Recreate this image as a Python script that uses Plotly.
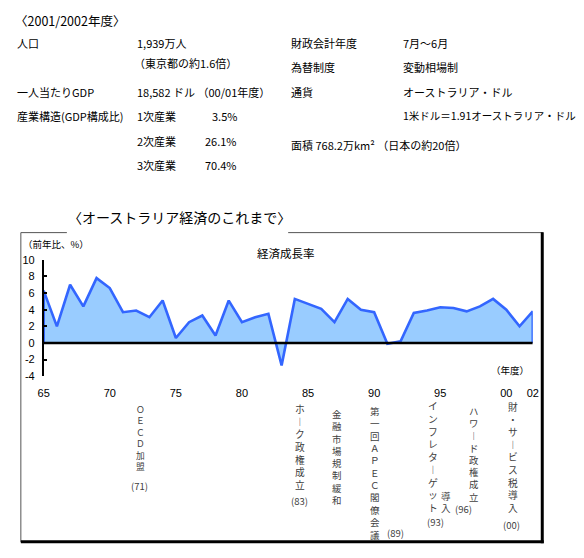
import plotly.graph_objects as go

W, H = 584, 558
OFF = 8                      # page body margin added by the browser
FW, FH = W - OFF, H - OFF    # figure size so that it fits the window

# ---- data ----
years = list(range(1965, 2003))
growth = [6.3, 2.0, 7.0, 4.4, 7.8, 6.6, 3.7, 3.9, 3.1, 5.1,
          0.6, 2.5, 3.3, 0.9, 5.1, 2.5, 3.1, 3.5, -2.7, 5.3,
          4.7, 4.1, 2.5, 5.3, 4.0, 3.7, -0.1, 0.2, 3.6, 3.9,
          4.3, 4.2, 3.8, 4.4, 5.3, 4.0, 2.0, 3.8]
x_tickvals = [1965, 1970, 1975, 1980, 1985, 1990, 1995, 2000, 2002]
x_ticktext = ["65", "70", "75", "80", "85", "90", "95", "00", "02"]
y_tickvals = [-4, -2, 0, 2, 4, 6, 8, 10]
y_ticktext = ["-4", "-2", "0", "2", "4", "6", "8", "10"]

info_left = [
    ("人口", "1,939万人"),
    ("", "（東京都の約1.6倍）"),
    ("一人当たりGDP", "18,582 ドル （00/01年度）"),
    ("産業構造(GDP構成比)", "1次産業"),
    ("", "2次産業"),
    ("", "3次産業"),
]
industry_share = ["3.5%", "26.1%", "70.4%"]
info_right = [
    ("財政会計年度", "7月～6月"),
    ("為替制度", "変動相場制"),
    ("通貨", "オーストラリア・ドル"),
    ("", "1米ドル＝1.91オーストラリア・ドル"),
]
area_text = "面積 768.2万km² （日本の約20倍）"

event_labels = ["ＯＥＣＤ加盟", "ホーク政権成立", "金融市場規制緩和",
                "第一回ＡＰＥＣ閣僚会議", "インフレターゲット", "ハワード政権成立",
                "財・サービス税導入"]
event_years = ["(71)", "(83)", "", "(89)", "(93)", "(96)", "(00)"]

FONT = "Noto Sans CJK JP"


def px(x):
    return (x - OFF) / FW


def py(y):
    return 1 - (y - OFF) / FH


fig = go.Figure()

# filled area
fig.add_trace(go.Scatter(
    x=years, y=growth, mode="lines", fill="tozeroy",
    fillcolor="#99CCFF", line=dict(width=0, color="#99CCFF"),
    hoverinfo="skip", showlegend=False))
# outline of the area (closed down to the baseline at both ends)
fig.add_trace(go.Scatter(
    x=[years[0]] + years + [years[-1]], y=[0] + growth + [0], mode="lines",
    line=dict(color="#3366FF", width=2.6), showlegend=False))

ann = []


def txt(x, y, text, size=11, xanchor="left", yanchor="middle", color="#000000",
        family=FONT):
    ann.append(dict(x=px(x), y=py(y), xref="paper", yref="paper", text=text,
                    showarrow=False, xanchor=xanchor, yanchor=yanchor,
                    align="center" if xanchor == "center" else xanchor,
                    borderpad=0,
                    font=dict(size=size, color=color, family=family)))


# header block
txt(8, 15, "〈2001/2002年度〉", size=12.5)
left_rows_y = [38, 58, 88, 112, 138, 162]
for (lab, val), yy in zip(info_left, left_rows_y):
    if lab:
        txt(10, yy, lab, size=11)
    txt(130 if val.startswith("（") else 133, yy, val, size=11)
for share, yy in zip(industry_share, left_rows_y[3:]):
    txt(237, yy, share, size=11, xanchor="right")
right_rows_y = [38, 62, 88, 112]
for (lab, val), yy in zip(info_right, right_rows_y):
    if lab:
        txt(290, yy, lab, size=11)
    txt(404, yy, val, size=10.5 if len(val) > 12 else 11)
txt(290, 142, area_text, size=11)

# chart box title
txt(62, 216, "〈オーストラリア経済のこれまで〉", size=14)
txt(16, 243, "（前年比、%）", size=9.5)
txt(286, 252, "経済成長率", size=11.5, xanchor="center")
txt(515, 372, "（年度）", size=9.5, xanchor="center")

# vertical event annotations, one glyph per line: (x, first centre y, last centre y)
ev_pos = [
    (137, 413, 470),
    (300, 413, 489),
    (338, 418, 504),
    (377, 415.5, 539),
    (436, 410, 512),
    (478, 415.5, 501),
    (518, 411, 512),
]
yr_pos = [(136, 491), (300, 506), None, (398, 539), (438, 527), (467, 514), (516, 530)]
GRAY = "#404040"
for label, (x0, y0, y1), yr, yp in zip(event_labels, ev_pos, event_years, yr_pos):
    chars = ["︱" if c == "ー" else c for c in label]
    pitch = (y1 - y0) / (len(chars) - 1)
    txt(x0, (y0 + y1) / 2, "<br>".join(chars), size=pitch / 1.3,
        xanchor="center", color=GRAY)
    if yr:
        txt(yp[0], yp[1], yr, size=9.5, xanchor="center", color=GRAY)
# 導入 written beside the inflation-target column
txt(449, 507, "導<br>入", size=9.5, xanchor="center", color=GRAY)

shapes = [
    # zero line
    dict(type="line", xref="x", yref="y", x0=years[0], x1=years[-1], y0=0, y1=0,
         line=dict(color="black", width=2.5), layer="above"),
    # frame
    dict(type="line", xref="paper", yref="paper", x0=px(15), x1=px(15), y0=py(231.5), y1=py(548),
         line=dict(color="#555555", width=1)),
    dict(type="line", xref="paper", yref="paper", x0=px(15), x1=px(62), y0=py(231.5), y1=py(231.5),
         line=dict(color="#555555", width=1)),
    dict(type="line", xref="paper", yref="paper", x0=px(288), x1=px(548), y0=py(231.5), y1=py(231.5),
         line=dict(color="#555555", width=1)),
    dict(type="line", xref="paper", yref="paper", x0=px(547.5), x1=px(547.5), y0=py(231), y1=py(549),
         line=dict(color="black", width=3)),
    dict(type="line", xref="paper", yref="paper", x0=px(15), x1=px(549), y0=py(547.5), y1=py(547.5),
         line=dict(color="black", width=3)),
]

fig.update_layout(
    width=FW, height=FH, margin=dict(l=0, r=0, t=0, b=0),
    paper_bgcolor="white", plot_bgcolor="rgba(0,0,0,0)",
    font=dict(family=FONT, size=11, color="black"),
    showlegend=False,
    annotations=ann, shapes=shapes,
    xaxis=dict(domain=[px(38.3), px(537.8)], range=[years[0], years[-1]],
               tickmode="array", tickvals=x_tickvals, ticktext=x_ticktext,
               showgrid=False, zeroline=False, showline=False, ticks="",
               ticklabelstandoff=9, tickfont=dict(family="Liberation Sans", size=11)),
    yaxis=dict(domain=[py(378.3), py(259.3)], range=[-4, 10],
               tickmode="array", tickvals=y_tickvals, ticktext=y_ticktext,
               showgrid=False, zeroline=False, showline=True, linecolor="black",
               linewidth=1.5, ticks="inside", ticklen=4, tickcolor="black", tickwidth=1.5,
               ticklabelstandoff=5, tickfont=dict(family="Liberation Sans", size=11)),
)

fig.write_html("out.html")
